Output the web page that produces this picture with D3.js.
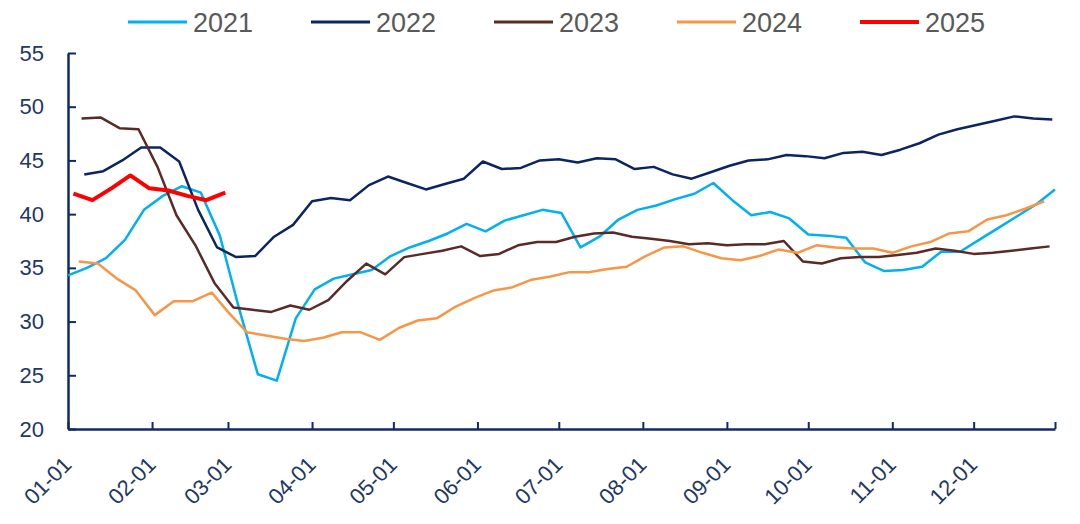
<!DOCTYPE html>
<html>
<head>
<meta charset="utf-8">
<title>Weekly index 2021-2025</title>
<style>
  body { margin: 0; background: #ffffff; }
  svg { display: block; }
</style>
<script src="https://d3js.org/d3.v7.min.js"></script>
</head>
<body>
<script>
// series, one per year, weekly (Fridays)
var years = ["2021", "2022", "2023", "2024", "2025"];
var firstWeek = ["2021-01-01", "2022-01-07", "2023-01-06", "2024-01-05", "2025-01-03"];

var v2021 = [34.3, 35.0, 35.9, 37.6, 40.4, 41.7, 42.6, 42.0, 38.0, 31.3, 25.1, 24.5, 30.3, 33.0, 34.0, 34.4,
  34.8, 36.1, 36.9, 37.5, 38.2, 39.1, 38.4, 39.4, 39.9, 40.4, 40.1, 36.9, 37.9, 39.5, 40.4, 40.8, 41.4, 41.9,
  42.9, 41.3, 39.9, 40.2, 39.6, 38.1, 38.0, 37.8, 35.5, 34.7, 34.8, 35.1, 36.5, 36.5, 37.6, 38.7, 39.8, 40.9, 42.3];
var v2022 = [43.7, 44.0, 45.0, 46.2, 46.2, 44.9, 40.4, 36.9, 36.0, 36.1, 37.9, 39.0, 41.2, 41.5, 41.3, 42.7,
  43.5, 42.9, 42.3, 42.8, 43.3, 44.9, 44.2, 44.3, 45.0, 45.1, 44.8, 45.2, 45.1, 44.2, 44.4, 43.7, 43.3, 43.9,
  44.5, 45.0, 45.1, 45.5, 45.4, 45.2, 45.7, 45.8, 45.5, 46.0, 46.6, 47.4, 47.9, 48.3, 48.7, 49.1, 48.9, 48.8];
var v2023 = [48.9, 49.0, 48.0, 47.9, 44.4, 39.9, 37.1, 33.6, 31.3, 31.1, 30.9, 31.5, 31.1, 32.0, 33.8, 35.4,
  34.4, 36.0, 36.3, 36.6, 37.0, 36.1, 36.3, 37.1, 37.4, 37.4, 37.9, 38.2, 38.3, 37.9, 37.7, 37.5, 37.2, 37.3,
  37.1, 37.2, 37.2, 37.5, 35.6, 35.4, 35.9, 36.0, 36.0, 36.2, 36.4, 36.8, 36.6, 36.3, 36.4, 36.6, 36.8, 37.0];
var v2024 = [35.6, 35.4, 34.0, 32.9, 30.6, 31.9, 31.9, 32.7, 30.9, 29.0, 28.7, 28.4, 28.2, 28.5, 29.0, 29.0,
  28.3, 29.4, 30.1, 30.3, 31.4, 32.2, 32.9, 33.2, 33.9, 34.2, 34.6, 34.6, 34.9, 35.1, 36.1, 36.9, 37.0, 36.4,
  35.9, 35.7, 36.1, 36.7, 36.4, 37.1, 36.9, 36.8, 36.8, 36.4, 37.0, 37.4, 38.2, 38.4, 39.5, 39.9, 40.5, 41.2];
var v2025 = [41.9, 41.3, 42.4, 43.6, 42.4, 42.2, 41.7, 41.3, 42.0];

var values = [v2021, v2022, v2023, v2024, v2025];
var colors = ["#00b0f0", "#0c2461", "#5a2a27", "#f79646", "#ff0000"];
var widths = [2.5, 2.5, 2.5, 2.5, 4];

var yTicks = [20, 25, 30, 35, 40, 45, 50, 55];
var monthLabels = ["01-01", "02-01", "03-01", "04-01", "05-01", "06-01",
  "07-01", "08-01", "09-01", "10-01", "11-01", "12-01"];

var width = 1080, height = 524;
var svg = d3.select("body").append("svg")
  .attr("width", width)
  .attr("height", height);

// every year is laid on the same month-day axis
var baseYear = 2021;
function toBase(d) {
  return new Date(baseYear, d.getMonth(), d.getDate());
}

var x = d3.scaleTime()
  .domain([new Date(baseYear, 0, 1), new Date(baseYear, 11, 31)])
  .range([68, 1055]);
var y = d3.scaleLinear().domain([20, 55]).range([429, 53]);

var axisColor = "#0f2b63";
var font = "'Liberation Sans', Arial, sans-serif";

// x axis
var monthTicks = monthLabels.map(function(m, i) { return new Date(baseYear, i, 1); });
var gx = svg.append("g")
  .attr("transform", "translate(0," + y(20) + ")")
  .call(d3.axisBottom(x)
    .tickValues(monthTicks.concat([x.domain()[1]]))
    .tickSizeInner(-7)
    .tickSizeOuter(0)
    .tickFormat(""));
gx.select(".domain").attr("stroke", axisColor).attr("stroke-width", 2.5);
gx.selectAll(".tick line").attr("stroke", axisColor).attr("stroke-width", 2);

svg.append("g").selectAll("text")
  .data(monthLabels)
  .join("text")
  .attr("transform", function(d, i) {
    return "translate(" + (x(monthTicks[i]) + 5) + ",466) rotate(-45)";
  })
  .attr("text-anchor", "end")
  .attr("font-family", font)
  .attr("font-size", 22)
  .attr("fill", "#1f3864")
  .text(function(d) { return d; });

// y axis
var gy = svg.append("g")
  .attr("transform", "translate(" + x.range()[0] + ",0)")
  .call(d3.axisLeft(y)
    .tickValues(yTicks)
    .tickSizeInner(-8)
    .tickSizeOuter(0)
    .tickPadding(24));
gy.select(".domain").attr("stroke", axisColor).attr("stroke-width", 2.5);
gy.selectAll(".tick line").attr("stroke", axisColor).attr("stroke-width", 2);
gy.selectAll(".tick text")
  .attr("font-family", font)
  .attr("font-size", 22)
  .attr("fill", "#1f3864");

// lines
var line = d3.line()
  .x(function(d) { return x(d.date); })
  .y(function(d) { return y(d.value); });

years.forEach(function(yr, s) {
  var start = d3.timeParse("%Y-%m-%d")(firstWeek[s]);
  var pts = values[s].map(function(v, i) {
    return { date: toBase(d3.timeDay.offset(start, 7 * i)), value: v };
  });
  svg.append("path")
    .datum(pts)
    .attr("d", line)
    .attr("fill", "none")
    .attr("stroke", colors[s])
    .attr("stroke-width", widths[s])
    .attr("stroke-linejoin", "round");
});

// legend
var legend = svg.append("g").selectAll("g")
  .data(years)
  .join("g")
  .attr("transform", function(d, i) { return "translate(" + (128 + i * 183) + ",0)"; });
legend.append("line")
  .attr("x1", 0).attr("x2", 59)
  .attr("y1", 22).attr("y2", 22)
  .attr("stroke", function(d, i) { return colors[i]; })
  .attr("stroke-width", function(d, i) { return i == 4 ? 4 : 3; });
legend.append("text")
  .attr("x", 65)
  .attr("y", 32)
  .attr("font-family", font)
  .attr("font-size", 27)
  .attr("fill", "#595959")
  .text(function(d) { return d; });
</script>
</body>
</html>
